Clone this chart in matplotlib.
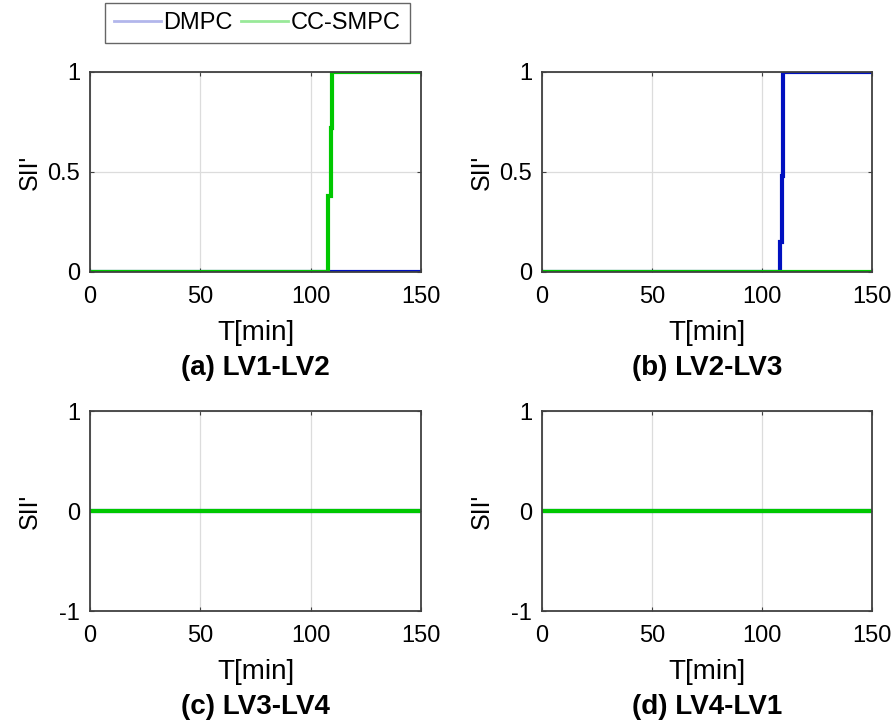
import numpy as np
import matplotlib.pyplot as plt

plt.rcParams['font.family'] = ['Liberation Sans', 'DejaVu Sans']
plt.rcParams['axes.unicode_minus'] = False

# step data (time in min, value)
t_a = [0, 108, 108, 109, 109, 109.5, 109.5, 150]
dmpc_a = [0, 0, 0, 0, 0, 0, 0, 0]
ccsmpc_a = [0, 0, 0.38, 0.38, 0.72, 0.72, 1, 1]

t_b = [0, 108.2, 108.2, 109.2, 109.2, 109.5, 109.5, 150]
dmpc_b = [0, 0, 0.15, 0.15, 0.48, 0.48, 1, 1]
ccsmpc_b = [0, 0, 0, 0, 0, 0, 0, 0]

t_cd = [0, 150]
dmpc_c = [0, 0]
ccsmpc_c = [0, 0]
dmpc_d = [0, 0]
ccsmpc_d = [0, 0]

titles = ["(a) LV1-LV2", "(b) LV2-LV3", "(c) LV3-LV4", "(d) LV4-LV1"]
xticks = [0, 50, 100, 150]

blue = "#0010c0"
green = "#00c800"

W, H = 893, 727
fig = plt.figure(figsize=(W / 100, H / 100), dpi=100)

# axes boxes in pixels: left, top, right, bottom
boxes = [(90, 72, 421, 272), (542, 72, 872, 272),
         (90, 411, 421, 611), (542, 411, 872, 611)]
series = [(t_a, dmpc_a, ccsmpc_a), (t_b, dmpc_b, ccsmpc_b),
          (t_cd, dmpc_c, ccsmpc_c), (t_cd, dmpc_d, ccsmpc_d)]

fs_tick = 17
fs_lab = 20
for i, (box, (t, d, c)) in enumerate(zip(boxes, series)):
    l, tp, r, b = box
    ax = fig.add_axes([l / W, 1 - b / H, (r - l) / W, (b - tp) / H])
    ax.plot(t, d, color=blue, lw=3, solid_joinstyle='miter')
    ax.plot(t, c, color=green, lw=3, solid_joinstyle='miter')
    ax.set_xlim(0, 150)
    ax.set_xticks(xticks)
    if i < 2:
        ax.set_ylim(0, 1)
        ax.set_yticks([0, 0.5, 1])
        ax.set_yticklabels(["0", "0.5", "1"])
    else:
        ax.set_ylim(-1, 1)
        ax.set_yticks([-1, 0, 1])
    ax.grid(True, color="#dcdcdc", lw=0.9)
    ax.set_axisbelow(True)
    for s in ax.spines.values():
        s.set_color("#404040")
        s.set_linewidth(1.3)
    ax.tick_params(direction='in', length=3, color="#404040", labelsize=fs_tick,
                   top=True, right=True)
    ax.tick_params(axis='x', pad=10)
    ax.tick_params(axis='y', pad=7)
    ax.set_xlabel("T[min]", fontsize=fs_lab, va='center')
    ax.xaxis.set_label_coords(0.5, -61 / (b - tp))
    ax.set_ylabel("SII'", fontsize=18, va='center')
    ax.yaxis.set_label_coords(-60 / (r - l), 0.5)
    ax.text(0.5, -96 / (b - tp), titles[i], transform=ax.transAxes,
            ha='center', va='center', fontsize=fs_lab, fontweight='bold')

# legend at the top
lax = fig.axes[0]
h1, = lax.plot([], [], color=blue, alpha=0.3, lw=2, label="DMPC")
h2, = lax.plot([], [], color=green, alpha=0.4, lw=2, label="CC-SMPC")
fig.legend(handles=[h1, h2], loc='upper left', bbox_to_anchor=(105 / W, 1 - 3 / H),
           ncol=2, fontsize=17, frameon=True, fancybox=False, edgecolor="#404040",
           handlelength=2.0, handletextpad=0.1, columnspacing=0.35,
           borderpad=0.38, borderaxespad=0)

fig.savefig("out.png", dpi=100)
